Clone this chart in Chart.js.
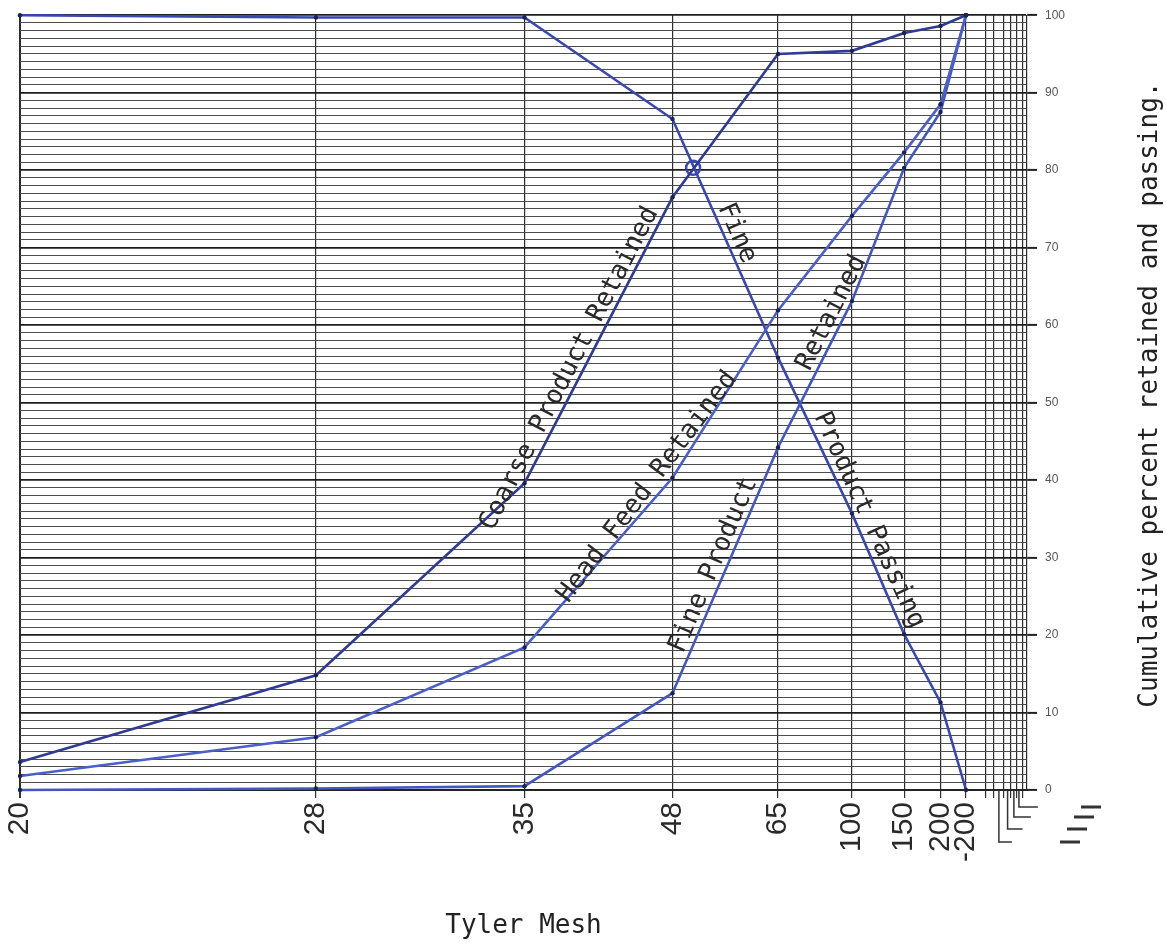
<!DOCTYPE html>
<html>
<head>
<meta charset="utf-8">
<script src="https://cdn.jsdelivr.net/npm/chart.js@4.4.1/dist/chart.umd.min.js"></script>
<style>
  html, body { margin: 0; padding: 0; background: #ffffff; }
  #wrap { width: 1166px; height: 945px; }
</style>
</head>
<body>
<div id="wrap"><canvas id="sieveCanvas" width="1166" height="945"></canvas></div>
<script>
// Tyler mesh sieves and their openings (mm) - the x axis is linear in opening, reversed
const meshLabels = ['20', '28', '35', '48', '65', '100', '150', '200', '-200'];
const meshOpenings = [0.833, 0.589, 0.417, 0.295, 0.208, 0.147, 0.104, 0.074, 0.053];
// finer unlabelled rulings of the graph paper past -200
const fineRulings = [0.037, 0.030, 0.022, 0.016, 0.011, 0.0066];

// cumulative percent, one value per sieve
const coarseRetained   = [3.6, 14.8, 39.6, 76.5, 95.0, 95.4, 97.7, 98.6, 100];
const headFeedRetained = [1.8, 6.8, 18.4, 40.3, 61.9, 74.1, 82.3, 88.5, 100];
const fineRetained     = [0.0, 0.2, 0.5, 12.5, 44.2, 63.1, 80.3, 87.5, 100];
const finePassing      = [100, 99.7, 99.7, 86.6, 55.8, 35.7, 20.1, 11.3, 0];

// circled cut point
const cutOpening = [0.278];
const cutPercent = [80.3];

const toPoints = (xs, ys) => xs.map((x, i) => ({ x: x, y: ys[i] }));

const monoFont = "'DejaVu Sans Mono', monospace";

// labels written along the curves: dataset, segment + position, chord used for the angle
const curveLabels = [
  { text: 'Coarse Product Retained', ds: 0, seg: 2, t: 0.38, from: 2, to: 3 },
  { text: 'Head Feed Retained',      ds: 1, seg: 2, t: 0.90, from: 2, to: 4 },
  { text: 'Fine Product',            ds: 2, seg: 3, t: 0.50, from: 3, to: 4 },
  { text: 'Retained',                ds: 2, seg: 4, t: 0.88, from: 4, to: 5 },
  { text: 'Fine',                    ds: 3, seg: 3, t: 0.50, from: 3, to: 4 },
  { text: 'Product Passing',         ds: 3, seg: 5, t: 0.10, from: 4, to: 6 }
];

const paperPlugin = {
  id: 'paper',
  afterDatasetsDraw(chart) {
    const ctx = chart.ctx;
    const area = chart.chartArea;
    const xs = chart.scales.x;

    // text along the curves
    ctx.save();
    ctx.fillStyle = '#2a2a2a';
    ctx.font = '26px ' + monoFont;
    ctx.textAlign = 'center';
    ctx.textBaseline = 'alphabetic';
    curveLabels.forEach(l => {
      const pts = chart.getDatasetMeta(l.ds).data;
      const a = pts[l.seg], b = pts[l.seg + 1];
      const cx = a.x + (b.x - a.x) * l.t;
      const cy = a.y + (b.y - a.y) * l.t;
      const ang = Math.atan2(pts[l.to].y - pts[l.from].y, pts[l.to].x - pts[l.from].x);
      ctx.save();
      ctx.translate(cx, cy);
      ctx.rotate(ang);
      ctx.fillText(l.text, 0, -6);
      ctx.restore();
    });
    ctx.restore();

    // y axis title, reading upward
    ctx.save();
    ctx.fillStyle = '#222';
    ctx.font = '26px ' + monoFont;
    ctx.textAlign = 'center';
    ctx.textBaseline = 'middle';
    ctx.translate(1150, (area.top + area.bottom) / 2 - 8);
    ctx.rotate(-Math.PI / 2);
    ctx.fillText('Cumulative percent retained and passing.', 0, 0);
    ctx.restore();

    // hooked rulings below the fine end of the paper
    ctx.save();
    ctx.strokeStyle = '#333';
    ctx.lineWidth = 1.5;
    const drops = [52, 39, 27, 17];
    drops.forEach((d, i) => {
      const x = xs.getPixelForValue(fineRulings[i + 1]) + 5 - i;
      ctx.beginPath();
      ctx.moveTo(x, area.bottom);
      ctx.lineTo(x, area.bottom + d);
      ctx.lineTo(x + 13 + i * 2, area.bottom + d);
      ctx.stroke();
      ctx.lineWidth = 3;
      ctx.beginPath();
      ctx.moveTo(area.right + 33 + i * 7, area.bottom + d);
      ctx.lineTo(area.right + 53 + i * 7, area.bottom + d);
      ctx.stroke();
      ctx.lineWidth = 1.5;
    });
    ctx.restore();
  }
};

const lineSet = (label, data, color) => ({
  label: label,
  data: toPoints(meshOpenings, data),
  borderColor: color,
  borderWidth: 2.6,
  pointRadius: 2.2,
  pointBorderWidth: 0,
  pointBackgroundColor: '#1c2250',
  tension: 0,
  fill: false,
  clip: 8
});

const sieveChart = new Chart(document.getElementById('sieveCanvas'), {
  type: 'line',
  data: {
    datasets: [
      lineSet('Coarse Product Retained', coarseRetained, '#303c92'),
      lineSet('Head Feed Retained', headFeedRetained, '#4b5fc8'),
      lineSet('Fine Product Retained', fineRetained, '#4457c0'),
      lineSet('Fine Product Passing', finePassing, '#3848b0'),
      {
        label: 'Cut point',
        data: toPoints(cutOpening, cutPercent),
        showLine: false,
        pointRadius: 7,
        pointBorderWidth: 2.5,
        pointBorderColor: '#3848b0',
        pointBackgroundColor: 'rgba(0,0,0,0)',
        clip: 8
      }
    ]
  },
  options: {
    responsive: false,
    animation: false,
    devicePixelRatio: 1,
    layout: { padding: { left: 20, top: 14, right: 0, bottom: 0 } },
    plugins: {
      legend: { display: false },
      tooltip: { enabled: false }
    },
    scales: {
      x: {
        type: 'linear',
        reverse: true,
        min: 0.0027,
        max: 0.833,
        afterBuildTicks: scale => {
          scale.ticks = meshOpenings.concat(fineRulings).map(v => ({ value: v }));
        },
        afterFit: scale => { scale.height = 155; },
        ticks: {
          autoSkip: false,
          minRotation: 90,
          maxRotation: 90,
          padding: 4,
          color: '#2a2a2a',
          font: { family: "'Liberation Sans', Arial, sans-serif", size: 30 },
          callback: value => {
            const i = meshOpenings.indexOf(value);
            return i >= 0 ? meshLabels[i] : '';
          }
        },
        grid: {
          color: '#2b2b2b',
          lineWidth: ctx => (ctx.index === 0 ? 2 : 1.2),
          tickLength: 8,
          tickColor: '#333'
        },
        border: { display: true, color: '#222', width: 2 },
        title: {
          display: true,
          text: 'Tyler Mesh',
          color: '#222',
          font: { family: monoFont, size: 26 },
          padding: { top: 0, bottom: 3 }
        }
      },
      y: {
        type: 'linear',
        position: 'right',
        min: 0,
        max: 100,
        afterFit: scale => { scale.width = 139; },
        ticks: {
          stepSize: 1,
          autoSkip: false,
          padding: 8,
          color: '#555',
          font: { family: "'Liberation Sans', Arial, sans-serif", size: 12 },
          callback: v => (v % 10 === 0 ? String(v) : '')
        },
        grid: {
          color: ctx => (ctx.tick && ctx.tick.value % 10 === 0 ? '#1e1e1e' : '#4d4d4d'),
          lineWidth: ctx => (ctx.tick && ctx.tick.value % 10 === 0 ? 1.8 : 1),
          tickLength: 10,
          tickWidth: 2,
          tickColor: ctx => (ctx.tick && ctx.tick.value % 10 === 0 ? '#222' : 'rgba(0,0,0,0)')
        },
        border: { display: true, color: '#2b2b2b', width: 1.2 }
      }
    }
  },
  plugins: [paperPlugin]
});
</script>
</body>
</html>
